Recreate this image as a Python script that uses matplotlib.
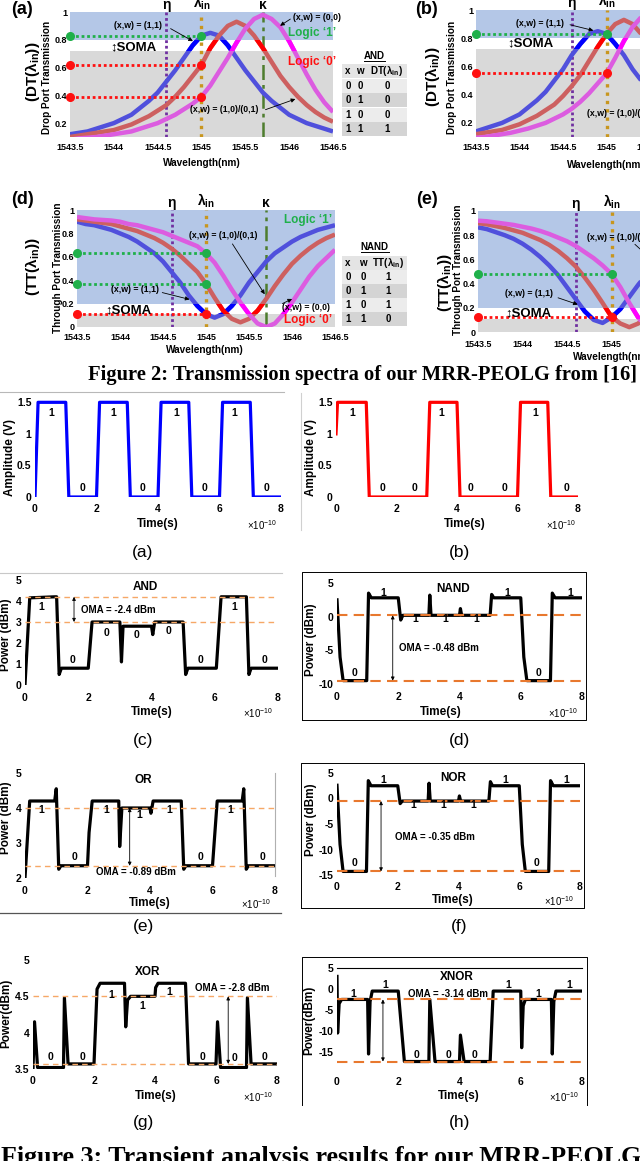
import numpy as np
import matplotlib
matplotlib.use('Agg')
import matplotlib.pyplot as plt
from matplotlib.patches import Rectangle
from matplotlib.lines import Line2D
from matplotlib.transforms import blended_transform_factory
from matplotlib import font_manager

W, H = 640, 1161

# ---------------- Figure 2 data: spectra read every 0.1 nm ----------------
wl = np.linspace(1543.5, 1546.5, 31)
wl_ticks = [1543.5, 1544, 1544.5, 1545, 1545.5, 1546, 1546.5]
wl_labels = ['1543.5', '1544', '1544.5', '1545', '1545.5', '1546', '1546.5']
eta_nm, lam_in_nm, kappa_nm = 1544.6, 1545.0, 1545.7

dt_a_blue = [0.12, 0.13, 0.14, 0.16, 0.18, 0.20, 0.23, 0.26, 0.31, 0.36, 0.42, 0.50, 0.58, 0.67, 0.76, 0.83,
             0.85, 0.83, 0.76, 0.67, 0.58, 0.50, 0.42, 0.36, 0.31, 0.26, 0.23, 0.20, 0.18, 0.16, 0.14]
dt_a_red = [0.10, 0.11, 0.12, 0.13, 0.14, 0.15, 0.17, 0.19, 0.22, 0.25, 0.29, 0.33, 0.39, 0.46, 0.54, 0.62,
            0.74, 0.83, 0.90, 0.93, 0.90, 0.83, 0.74, 0.64, 0.54, 0.46, 0.39, 0.33, 0.28, 0.24, 0.21]
dt_a_mag = [0.08, 0.09, 0.095, 0.10, 0.11, 0.12, 0.13, 0.14, 0.16, 0.18, 0.20, 0.23, 0.26, 0.30, 0.34, 0.39,
            0.47, 0.57, 0.67, 0.78, 0.88, 0.95, 0.98, 0.95, 0.89, 0.79, 0.67, 0.55, 0.44, 0.35, 0.28]

dt_b_blue = [0.14, 0.16, 0.18, 0.20, 0.23, 0.26, 0.31, 0.36, 0.42, 0.50, 0.58, 0.68, 0.76, 0.83, 0.85, 0.83,
             0.76, 0.68, 0.58, 0.50, 0.42, 0.36, 0.31, 0.26, 0.23, 0.20, 0.18, 0.16, 0.14, 0.13, 0.12]
dt_b_red = [0.12, 0.13, 0.14, 0.15, 0.17, 0.19, 0.22, 0.25, 0.29, 0.33, 0.39, 0.46, 0.54, 0.64, 0.74, 0.83,
            0.90, 0.93, 0.90, 0.83, 0.74, 0.64, 0.54, 0.46, 0.39, 0.33, 0.29, 0.25, 0.22, 0.19, 0.17]
dt_b_mag = [0.095, 0.10, 0.11, 0.12, 0.13, 0.145, 0.16, 0.18, 0.20, 0.23, 0.26, 0.30, 0.35, 0.41, 0.48, 0.55,
            0.66, 0.78, 0.88, 0.95, 0.98, 0.95, 0.88, 0.78, 0.67, 0.57, 0.48, 0.41, 0.35, 0.30, 0.26]

tt_d_blue = [0.90, 0.88, 0.87, 0.85, 0.83, 0.80, 0.77, 0.73, 0.68, 0.63, 0.56, 0.47, 0.38, 0.27, 0.18, 0.11,
             0.08, 0.11, 0.18, 0.27, 0.38, 0.47, 0.56, 0.63, 0.68, 0.73, 0.77, 0.80, 0.83, 0.85, 0.87]
tt_d_red = [0.92, 0.91, 0.90, 0.89, 0.88, 0.86, 0.84, 0.82, 0.79, 0.76, 0.72, 0.67, 0.61, 0.54, 0.47, 0.37,
            0.25, 0.14, 0.07, 0.04, 0.07, 0.14, 0.24, 0.35, 0.45, 0.54, 0.61, 0.67, 0.72, 0.76, 0.79]
tt_d_mag = [0.94, 0.93, 0.92, 0.915, 0.91, 0.90, 0.88, 0.87, 0.85, 0.83, 0.81, 0.78, 0.75, 0.72, 0.69, 0.63,
            0.55, 0.44, 0.32, 0.21, 0.11, 0.03, 0.0, 0.03, 0.11, 0.21, 0.32, 0.43, 0.52, 0.59, 0.66]

tt_e_blue = [0.865, 0.85, 0.825, 0.80, 0.77, 0.73, 0.68, 0.62, 0.55, 0.47, 0.37, 0.27, 0.17, 0.10, 0.075, 0.12,
             0.19, 0.29, 0.39, 0.48, 0.55, 0.62, 0.68, 0.73, 0.77, 0.80, 0.82, 0.85, 0.865, 0.88, 0.89]
tt_e_red = [0.90, 0.89, 0.875, 0.86, 0.84, 0.82, 0.79, 0.76, 0.72, 0.67, 0.61, 0.54, 0.45, 0.35, 0.24, 0.125,
            0.07, 0.04, 0.07, 0.14, 0.24, 0.35, 0.45, 0.54, 0.61, 0.67, 0.72, 0.76, 0.79, 0.82, 0.84]
tt_e_mag = [0.92, 0.915, 0.905, 0.895, 0.885, 0.87, 0.855, 0.835, 0.81, 0.78, 0.75, 0.71, 0.66, 0.61, 0.55, 0.48,
            0.37, 0.24, 0.12, 0.03, 0.0, 0.03, 0.11, 0.21, 0.32, 0.43, 0.52, 0.59, 0.66, 0.71, 0.75]

dots_a = [0.83, 0.62, 0.39]
dots_b = [0.83, 0.55]
dots_d = [0.63, 0.37, 0.11]
dots_e = [0.48, 0.12]

and_rows = [['0', '0', '0'], ['0', '1', '0'], ['1', '0', '0'], ['1', '1', '1']]
nand_rows = [['0', '0', '1'], ['0', '1', '1'], ['1', '0', '1'], ['1', '1', '0']]

# ---------------- Figure 3 data: transients, time in units of 1e-10 s ----------------
bit_ticks = [0, 2, 4, 6, 8]
t_x = [0, 0.1, 1.0, 1.1, 2.0, 2.1, 3.0, 3.1, 4.0, 4.1, 5.0, 5.1, 6.0, 6.1, 7.0, 7.1, 8.0]
v_x = [0, 1.5, 1.5, 0, 0, 1.5, 1.5, 0, 0, 1.5, 1.5, 0, 0, 1.5, 1.5, 0, 0]
t_w = [0, 0.05, 1.0, 1.1, 3.0, 3.1, 4.0, 4.1, 6.0, 6.1, 7.0, 7.1, 8.0]
v_w = [1.0, 1.5, 1.5, 0, 0, 1.5, 1.5, 0, 0, 1.5, 1.5, 0, 0]

t_and = [0, 0.15, 0.95, 1.0, 1.08, 1.15, 2.0, 2.12, 3.0, 3.05, 3.1, 4.0, 4.04, 4.1, 5.0, 5.08, 5.15,
         6.05, 6.2, 7.0, 7.08, 7.15, 8.0]
p_and = [0, 4.15, 4.2, 4.2, 0.5, 0.8, 0.8, 3.0, 3.0, 1.1, 2.8, 2.8, 2.4, 3.0, 3.0, 0.5, 0.8,
         0.8, 4.2, 4.2, 0.5, 0.8, 0.8]
oma_and = [4.2, 3.0]

t_nand = [0, 0.1, 0.2, 0.97, 1.03, 1.12, 2.0, 2.08, 2.15, 3.0, 3.03, 3.07, 4.0, 4.03, 4.07, 5.0, 5.05,
          5.12, 6.0, 6.1, 6.2, 6.97, 7.03, 7.12, 8.0]
p_nand = [2.5, -6.0, -9.5, -9.5, 3.5, 2.8, 2.8, -0.5, 0.2, 0.2, 3.2, 0.2, 0.2, 1.2, 0.2, 0.2, 3.3,
          2.8, 2.8, -6.0, -9.5, -9.5, 3.5, 2.8, 2.8]
oma_nand = [0.2, -9.5]

t_or = [0, 0.15, 0.95, 1.0, 1.08, 1.15, 2.0, 2.05, 2.15, 3.0, 3.03, 3.1, 4.0, 4.03, 4.1, 5.0, 5.08, 5.15,
        6.0, 6.15, 6.95, 7.0, 7.08, 7.15, 8.0]
p_or = [2.0, 4.2, 4.2, 4.55, 2.25, 2.35, 2.35, 3.3, 4.2, 4.2, 2.9, 4.0, 4.0, 3.85, 4.2, 4.2, 2.25, 2.35,
        2.35, 4.2, 4.2, 4.55, 2.25, 2.35, 2.35]
oma_or = [4.0, 2.35]

t_nor = [0, 0.1, 0.2, 0.97, 1.03, 1.12, 2.0, 2.08, 2.15, 3.0, 3.03, 3.07, 4.0, 4.03, 4.07, 5.0, 5.05,
         5.12, 6.0, 6.1, 6.2, 6.97, 7.03, 7.12, 8.0]
p_nor = [2.6, -9.0, -14.3, -14.3, 3.5, 2.5, 2.5, -1.0, -0.5, -0.5, 3.0, -0.5, -0.5, 0.5, -0.5, -0.5, 3.3,
         2.5, 2.5, -9.0, -14.3, -14.3, 3.5, 2.5, 2.5]
oma_nor = [-0.5, -14.3]

t_xor = [0, 0.05, 0.15, 1.0, 1.03, 1.15, 2.0, 2.1, 2.2, 3.0, 3.04, 3.1, 3.2, 4.0, 4.02, 4.1, 5.0, 5.1,
         6.0, 6.05, 6.15, 7.0, 7.03, 7.15, 8.0]
p_xor = [3.5, 4.15, 3.52, 3.52, 4.48, 3.57, 3.57, 4.6, 4.68, 4.68, 4.08, 4.45, 4.5, 4.5, 4.62, 4.68, 4.68,
         3.57, 3.57, 4.15, 3.52, 3.52, 4.48, 3.57, 3.57]
oma_xor = [4.5, 3.57]

t_xnor = [0, 0.02, 0.07, 0.15, 1.0, 1.03, 1.08, 1.15, 2.0, 2.2, 3.0, 3.03, 3.2, 4.0, 4.03, 4.15, 5.0, 5.1,
          6.0, 6.03, 6.08, 6.15, 7.0, 7.03, 7.08, 7.15, 8.0]
p_xnor = [3.0, -10.5, -3.5, -2.5, -2.5, -15.5, -3.0, -0.5, -0.5, -17.3, -17.3, -2.5, -17.3, -17.3, -11.0,
          -17.3, -17.3, -0.5, -0.5, -14.0, -4.0, -2.5, -2.5, -15.5, -3.0, -0.5, -0.5]
oma_xnor = [-2.5, -17.3]

# ---------------- styling ----------------
plt.rcParams['font.family'] = ['Liberation Sans', 'DejaVu Sans']
plt.rcParams['mathtext.fontset'] = 'custom'
plt.rcParams['mathtext.rm'] = 'Liberation Sans'
plt.rcParams['mathtext.it'] = 'Liberation Sans:italic'
plt.rcParams['mathtext.bf'] = 'Liberation Sans:bold'

names = {f.name for f in font_manager.fontManager.ttflist}
NARROW = ['Liberation Sans Narrow', 'Liberation Sans'] if 'Liberation Sans Narrow' in names else ['Liberation Sans']

BAND1, BAND0 = '#b4c7e7', '#d9d9d9'
PALE = {'b': '#5050dc', 'r': '#cd6060', 'm': '#dc5ce0'}
VIVID = {'b': '#0000ff', 'r': '#ff0000', 'm': '#ff00ff'}
GREEN, RED = '#1fb04a', '#ff1010'
ORANGE_LIGHT, ORANGE_DARK = '#f6a866', '#e8782e'

fig = plt.figure(figsize=(W / 100, H / 100), dpi=100)


def px_ax(l, t, r, b):
    return fig.add_axes([l / W, 1 - b / H, (r - l) / W, (b - t) / H])


def ftext(x, y, s, **kw):
    kw.setdefault('ha', 'center')
    kw.setdefault('va', 'center')
    return fig.text(x / W, 1 - y / H, s, **kw)


def fline(xs, ys, **kw):
    fig.add_artist(Line2D([x / W for x in xs], [1 - y / H for y in ys], transform=fig.transFigure, **kw))


def spectrum(box, curves, dots, ylo, band1, band0, yticks, ylabels, xpad):
    ax = px_ax(*box)
    ax.set_xlim(1543.5, 1546.5)
    ax.set_ylim(ylo, 1.0)
    ax.axhspan(band1, 1.0, color=BAND1, lw=0, zorder=0)
    ax.axhspan(ylo, band0, color=BAND0, lw=0, zorder=0)
    ax.axvline(eta_nm, color='#7030a0', lw=2, ls=(0, (1, 1)), zorder=2)
    ax.axvline(lam_in_nm, color='#c8961e', lw=2.4, ls=(0, (1, 1.5)), zorder=2)
    ax.axvline(kappa_nm, color='#4e7d2e', lw=1.8, ls=(0, (6, 2, 1.5, 2)), zorder=2)
    window = Rectangle((1543.5, band0), 3.0, band1 - band0, transform=ax.transData)
    for vals, key in curves:
        ax.plot(wl, vals, color=PALE[key], lw=3.2, zorder=3, solid_capstyle='butt')
        ln, = ax.plot(wl, vals, color=VIVID[key], lw=3.2, zorder=4, solid_capstyle='butt')
        ln.set_clip_path(window)
    for lvl, col in dots:
        ax.plot([1543.5, lam_in_nm], [lvl, lvl], color=col, lw=2, ls=(0, (1, 1)), zorder=5)
        ax.plot([1543.5, lam_in_nm], [lvl, lvl], 'o', color=col, ms=5.5, zorder=6, clip_on=False)
    ax.set_xticks(wl_ticks, wl_labels)
    ax.set_yticks(yticks, ylabels)
    ax.tick_params(axis='x', length=0, labelsize=6.5, pad=xpad)
    ax.tick_params(axis='y', length=0, labelsize=6.5, pad=2)
    for lab in ax.get_xticklabels() + ax.get_yticklabels():
        lab.set_fontweight('bold')
    for sp in ax.spines.values():
        sp.set_visible(False)
    tr = blended_transform_factory(ax.transData, ax.transAxes)
    ax.text(eta_nm, 1.0, 'η', transform=tr, ha='center', va='bottom', fontsize=10, fontweight='bold')
    ax.text(lam_in_nm, 1.0, r'$\mathbf{\lambda_{in}}$', transform=tr, ha='center', va='bottom', fontsize=10)
    ax.text(kappa_nm, 1.0, 'κ', transform=tr, ha='center', va='bottom', fontsize=10, fontweight='bold')
    return ax


def arrow(ax, tail, head):
    ax.annotate('', xy=head, xytext=tail, zorder=7, annotation_clip=False,
                arrowprops=dict(arrowstyle='-|>', color='black', lw=0.6, mutation_scale=6))


def truth_table(x0, x1, top, row_h, title, title_y, header, rows, cols):
    t = ftext((x0 + x1) / 2, title_y, title, fontsize=7, fontweight='bold')
    w = t.get_window_extent(renderer=fig.canvas.get_renderer()).width
    cx = (x0 + x1) / 2
    fline([cx - w / 2, cx + w / 2], [title_y + 5, title_y + 5], color='black', lw=0.7)
    fills = ['#e4e4e4', '#ececec', '#d4d4d4', '#ececec', '#d4d4d4']
    for i, cells in enumerate([header] + rows):
        y0 = top + i * row_h
        fig.add_artist(Rectangle((x0 / W, 1 - (y0 + row_h - 0.5) / H), (x1 - x0) / W, (row_h - 1) / H,
                                 transform=fig.transFigure, color=fills[i], lw=0))
        for x, s in zip(cols, cells):
            ftext(x, y0 + row_h / 2, s, fontsize=7, fontweight='bold')


# ---------------- Figure 2 panels ----------------
ax_a = spectrum((70, 12, 333, 137), [(dt_a_blue, 'b'), (dt_a_red, 'r'), (dt_a_mag, 'm')],
                [(dots_a[0], GREEN), (dots_a[1], RED), (dots_a[2], RED)],
                0.1, 0.8, 0.72, [0.2, 0.4, 0.6, 0.8, 1], ['0.2', '0.4', '0.6', '0.8', '1'], 4)
arrow(ax_a, (1544.62, 0.89), (1544.93, 0.78))
arrow(ax_a, (1546.04, 0.96), (1545.87, 0.89))
arrow(ax_a, (1545.70, 0.29), (1546.10, 0.38))

ax_b = spectrum((476, 10, 737, 137), [(dt_b_blue, 'b'), (dt_b_red, 'r'), (dt_b_mag, 'm')],
                [(dots_b[0], GREEN), (dots_b[1], RED)],
                0.1, 0.8, 0.725, [0.2, 0.4, 0.6, 0.8, 1], ['0.2', '0.4', '0.6', '0.8', '1'], 4)
arrow(ax_b, (1544.55, 0.90), (1544.88, 0.85))

ax_d = spectrum((77, 210, 335, 327), [(tt_d_blue, 'b'), (tt_d_red, 'r'), (tt_d_mag, 'm')],
                [(dots_d[0], GREEN), (dots_d[1], GREEN), (dots_d[2], RED)],
                0.0, 0.2, 0.11, [0, 0.2, 0.4, 0.6, 0.8, 1], ['0', '0.2', '0.4', '0.6', '0.8', '1'], 4)
arrow(ax_d, (1545.29, 0.73), (1545.70, 0.26))
arrow(ax_d, (1544.46, 0.30), (1544.84, 0.23))
arrow(ax_d, (1545.86, 0.19), (1546.03, 0.25))

ax_e = spectrum((478, 211, 745, 332), [(tt_e_blue, 'b'), (tt_e_red, 'r'), (tt_e_mag, 'm')],
                [(dots_e[0], GREEN), (dots_e[1], RED)],
                0.0, 0.2, 0.11, [0, 0.2, 0.4, 0.6, 0.8, 1], ['0', '0.2', '0.4', '0.6', '0.8', '1'], 6)
arrow(ax_e, (1544.37, 0.29), (1544.65, 0.22))
arrow(ax_e, (1545.24, 0.74), (1545.45, 0.60))

AB = dict(fontsize=6.3, fontweight='bold')
# panel (a) text
ftext(22, 9, '(a)', fontsize=13, fontweight='bold')
ftext(33, 72, r'$\mathbf{(DT(\lambda_{in}))}$', fontsize=11, rotation=90)
ftext(47, 77, 'Drop Port Transmission', fontsize=7.2, fontweight='bold', rotation=90)
ftext(202, 163, 'Wavelength(nm)', fontsize=7.2, fontweight='bold')
ftext(138, 25, '(x,w) = (1,1)', **AB)
ftext(293, 17, '(x,w) = (0,0)', ha='left', **AB)
ftext(224, 110, '(x,w) = (1,0)/(0,1)', **AB)
ftext(312, 33, 'Logic ‘1’', fontsize=8.5, fontweight='bold', color=GREEN)
ftext(312, 62, 'Logic ‘0’', fontsize=8.5, fontweight='bold', color=RED)
ftext(133, 47, '↕SOMA', fontsize=9.5, fontweight='bold')
truth_table(342, 407, 64, 14.5, 'AND', 56, ['x', 'w', r'DT($\mathbf{\lambda_{in}}$)'], and_rows, [348, 360, 387])

# panel (b) text
ftext(427, 9, '(b)', fontsize=13, fontweight='bold')
ftext(432, 77, r'$\mathbf{(DT(\lambda_{in}))}$', fontsize=11, rotation=90)
ftext(452, 77, 'Drop Port Transmission', fontsize=7.2, fontweight='bold', rotation=90)
ftext(606, 165, 'Wavelength(nm)', fontsize=7.2, fontweight='bold')
ftext(540, 23, '(x,w) = (1,1)', **AB)
ftext(587, 113, '(x,w) = (1,0)/(0,1)', ha='left', **AB)
ftext(530, 43, '↕SOMA', fontsize=9.5, fontweight='bold')

# panel (d) text
ftext(23, 200, '(d)', fontsize=13, fontweight='bold')
ftext(33, 267, r'$\mathbf{(TT(\lambda_{in}))}$', fontsize=11, rotation=90)
ftext(58, 268, 'Through Port Transmission', fontsize=7.2, fontweight='bold', rotation=90)
ftext(205, 350, 'Wavelength(nm)', fontsize=7.2, fontweight='bold')
ftext(308, 220, 'Logic ‘1’', fontsize=8.5, fontweight='bold', color=GREEN)
ftext(308, 320, 'Logic ‘0’', fontsize=8.5, fontweight='bold', color=RED)
ftext(223, 236, '(x,w) = (1,0)/(0,1)', **AB)
ftext(135, 290, '(x,w) = (1,1)', **AB)
ftext(306, 307, '(x,w) = (0,0)', **AB)
ftext(128, 310, '↕SOMA', fontsize=9.5, fontweight='bold')
truth_table(342, 407, 256, 14, 'NAND', 247, ['x', 'w', r'TT($\mathbf{\lambda_{in}}$)'], nand_rows, [348, 363, 388])

# panel (e) text
ftext(427, 200, '(e)', fontsize=13, fontweight='bold')
ftext(445, 283, r'$\mathbf{(TT(\lambda_{in}))}$', fontsize=11, rotation=90)
ftext(458, 270, 'Through Port Transmission', fontsize=7.2, fontweight='bold', rotation=90)
ftext(612, 357, 'Wavelength(nm)', fontsize=7.2, fontweight='bold')
ftext(529, 294, '(x,w) = (1,1)', **AB)
ftext(587, 237, '(x,w) = (1,0)/(0,1)', ha='left', **AB)
ftext(528, 313, '↕SOMA', fontsize=9.5, fontweight='bold')


def fit_caption(x, y, s, width, va):
    t = ftext(x, y, s, ha='left', va=va, fontsize=12, fontweight='bold',
              family=['Liberation Serif', 'DejaVu Serif'])
    w = t.get_window_extent(renderer=fig.canvas.get_renderer()).width
    t.set_fontsize(12 * width / w)


fit_caption(88, 375, 'Figure 2: Transmission spectra of our MRR-PEOLG from [16] f', 556, 'center')


# ---------------- Figure 3 panels ----------------
def transient(box, t, v, color, ylim, yticks, ylabels, xpad, oma=None, oma_t=None, dark=False):
    ax = px_ax(*box)
    ax.plot(t, v, color=color, lw=2.3, solid_joinstyle='round', zorder=3)
    ax.set_xlim(0, 8)
    ax.set_ylim(*ylim)
    ax.set_xticks(bit_ticks, [str(b) for b in bit_ticks])
    ax.set_yticks(yticks, ylabels)
    ax.tick_params(axis='x', length=0, pad=xpad, labelsize=7.5)
    ax.tick_params(axis='y', length=0, pad=2.5, labelsize=7.5)
    for lab in ax.get_xticklabels() + ax.get_yticklabels():
        lab.set_fontweight('bold')
        lab.set_family(NARROW)
    for sp in ax.spines.values():
        sp.set_visible(False)
    ax.patch.set_visible(False)
    if oma is not None:
        col, lw, dash = (ORANGE_DARK, 1.5, (5, 3)) if dark else (ORANGE_LIGHT, 1.0, (4, 3))
        for lvl in oma:
            ax.axhline(lvl, color=col, lw=lw, ls=(0, dash), zorder=4)
        ax.annotate('', xy=(oma_t, oma[1]), xytext=(oma_t, oma[0]), zorder=5,
                    arrowprops=dict(arrowstyle='<|-|>', color='black', lw=0.6, mutation_scale=5,
                                    shrinkA=0, shrinkB=0))
    return ax


NB = dict(fontsize=7.5, fontweight='bold', family=NARROW)


def labels(ones, zeros):
    for x, y in ones:
        ftext(x, y, '1', **NB)
    for x, y in zeros:
        ftext(x, y, '0', **NB)


def axis_text(xc, yt, xm, ylab_x, ylab_y, ylab):
    ftext(xc, yt, 'Time(s)', fontsize=8.5, fontweight='bold', family=NARROW)
    ftext(xm, yt + 1, r'$\times$10$^{-10}$', fontsize=7)
    ftext(ylab_x, ylab_y, ylab, fontsize=8.5, fontweight='bold', family=NARROW, rotation=90)


# (a) input x
transient((35, 396, 281, 497), t_x, v_x, '#0000ff', (0, 1.6), [0, 0.5, 1, 1.5], ['0', '0.5', '1', '1.5'], 5)
labels([(51, 413), (113, 413), (176, 413), (234, 413)], [(82, 488), (143, 488), (205, 488), (266, 488)])
axis_text(158, 524, 262, 10, 458, 'Amplitude (V)')
# (b) input w
transient((336, 396, 578, 497), t_w, v_w, '#ff0000', (0, 1.6), [0, 0.5, 1, 1.5], ['0', '0.5', '1', '1.5'], 5)
labels([(352, 413), (441, 413), (535, 413)], [(383, 488), (414, 488), (471, 488), (504, 488), (566, 488)])
axis_text(465, 524, 561, 311, 458, 'Amplitude (V)')

# (c) AND
transient((25, 580, 278, 685), t_and, p_and, 'black', (0, 5), [0, 1, 2, 3, 4, 5],
          ['0', '1', '2', '3', '4', '5'], 6, oma_and, 1.55)
ftext(145, 587, 'AND', fontsize=8.5, fontweight='bold', family=NARROW)
ftext(118, 610, 'OMA = -2.4 dBm', fontsize=7, fontweight='bold', family=NARROW)
labels([(41, 607), (234, 607)], [(73, 660), (106, 633), (137, 635), (169, 631), (201, 660), (264, 660)])
axis_text(152, 712, 258, 6, 635, 'Power (dBm)')
# (d) NAND
transient((337, 583, 582, 684), t_nand, p_nand, 'black', (-10, 5), [-10, -5, 0, 5],
          ['-10', '-5', '0', '5'], 6, oma_nand, 1.82, dark=True)
ftext(453, 589, 'NAND', fontsize=8.5, fontweight='bold', family=NARROW)
ftext(439, 648, 'OMA = -0.48 dBm', fontsize=7, fontweight='bold', family=NARROW)
labels([(383, 593), (415, 619), (445, 619), (476, 619), (507, 593), (570, 593)], [(355, 673), (539, 673)])
axis_text(441, 712, 563, 311, 640, 'Power (dBm)')

# (e) OR
transient((25, 773, 275, 878), t_or, p_or, 'black', (2, 5), [2, 3, 4, 5],
          ['2', '3', '4', '5'], 6, oma_or, 3.35)
ftext(143, 780, 'OR', fontsize=8.5, fontweight='bold', family=NARROW)
ftext(136, 872, 'OMA = -0.89 dBm', fontsize=7, fontweight='bold', family=NARROW)
labels([(41, 810), (106, 810), (139, 815), (169, 810), (230, 810)], [(74, 857), (201, 857), (262, 857)])
axis_text(150, 903, 256, 6, 818, 'Power (dBm)')
# (f) NOR
transient((337, 773, 580, 875), t_nor, p_nor, 'black', (-15, 5), [-15, -10, -5, 0, 5],
          ['-15', '-10', '-5', '0', '5'], 5, oma_nor, 1.45, dark=True)
ftext(453, 778, 'NOR', fontsize=8.5, fontweight='bold', family=NARROW)
ftext(435, 837, 'OMA = -0.35 dBm', fontsize=7, fontweight='bold', family=NARROW)
labels([(383, 780), (413, 805), (443, 805), (473, 805), (505, 780), (566, 780)], [(355, 863), (537, 863)])
axis_text(453, 900, 559, 311, 820, 'Power (dBm)')

# (g) XOR
transient((33, 960, 277, 1069), t_xor, p_xor, 'black', (3.5, 5), [3.5, 4, 4.5, 5],
          ['3.5', '4', '4.5', '5'], 5, oma_xor, 6.4)
ftext(148, 972, 'XOR', fontsize=8.5, fontweight='bold', family=NARROW)
ftext(232, 988, 'OMA = -2.8 dBm', fontsize=7, fontweight='bold', family=NARROW)
labels([(111, 995), (142, 1006), (169, 992)], [(50, 1057), (82, 1057), (203, 1057), (234, 1058), (264, 1057)])
axis_text(156, 1096, 258, 6, 1013, 'Power(dBm)')
# (h) XNOR
ax_h = transient((337, 968, 582, 1072), t_xnor, p_xnor, 'black', (-19.8, 5), [-15, -10, -5, 0, 5],
                 ['-15', '-10', '-5', '0', '5'], 3.5, oma_xnor, 1.5, dark=True)
ax_h.spines['top'].set_visible(True)
ax_h.spines['top'].set_linewidth(0.8)
ftext(457, 977, 'XNOR', fontsize=8.5, fontweight='bold', family=NARROW)
ftext(448, 994, 'OMA = -3.14 dBm', fontsize=7, fontweight='bold', family=NARROW)
labels([(353, 994), (385, 985), (508, 985), (538, 994), (569, 985)], [(417, 1055), (449, 1055), (475, 1055)])
axis_text(459, 1096, 564, 309, 1020, 'Power(dBm)')

# sub-figure letters
for lx, ly, s in [(143, 552, '(a)'), (459, 552, '(b)'), (143, 740, '(c)'), (459, 740, '(d)'),
                  (143, 927, '(e)'), (459, 927, '(f)'), (144, 1123, '(g)'), (460, 1123, '(h)')]:
    ftext(lx, ly, s, fontsize=12.5)

# frames and separators
fline([0, 284], [392, 392], color='#b8b8b8', lw=0.8)
fline([301, 301], [393, 530], color='#d0d0d0', lw=0.8)
fline([0, 282], [573, 573], color='#c8c8c8', lw=0.8)
fline([275, 275], [773, 876], color='#b0b0b0', lw=0.8)
fline([0, 281], [913, 913], color='#555555', lw=0.9)
fline([302, 302, 586, 586, 302], [720, 572, 572, 720, 720], color='black', lw=0.7)
fline([301, 301, 584, 584, 301], [908, 763, 763, 908, 908], color='black', lw=0.7)
fline([302, 302, 587, 587], [1105, 957, 957, 1105], color='black', lw=0.7)

fit_caption(1, 1146, 'Figure 3: Transient analysis results for our MRR-PEOLG', 636, 'top')

fig.savefig('out.png', dpi=100)
